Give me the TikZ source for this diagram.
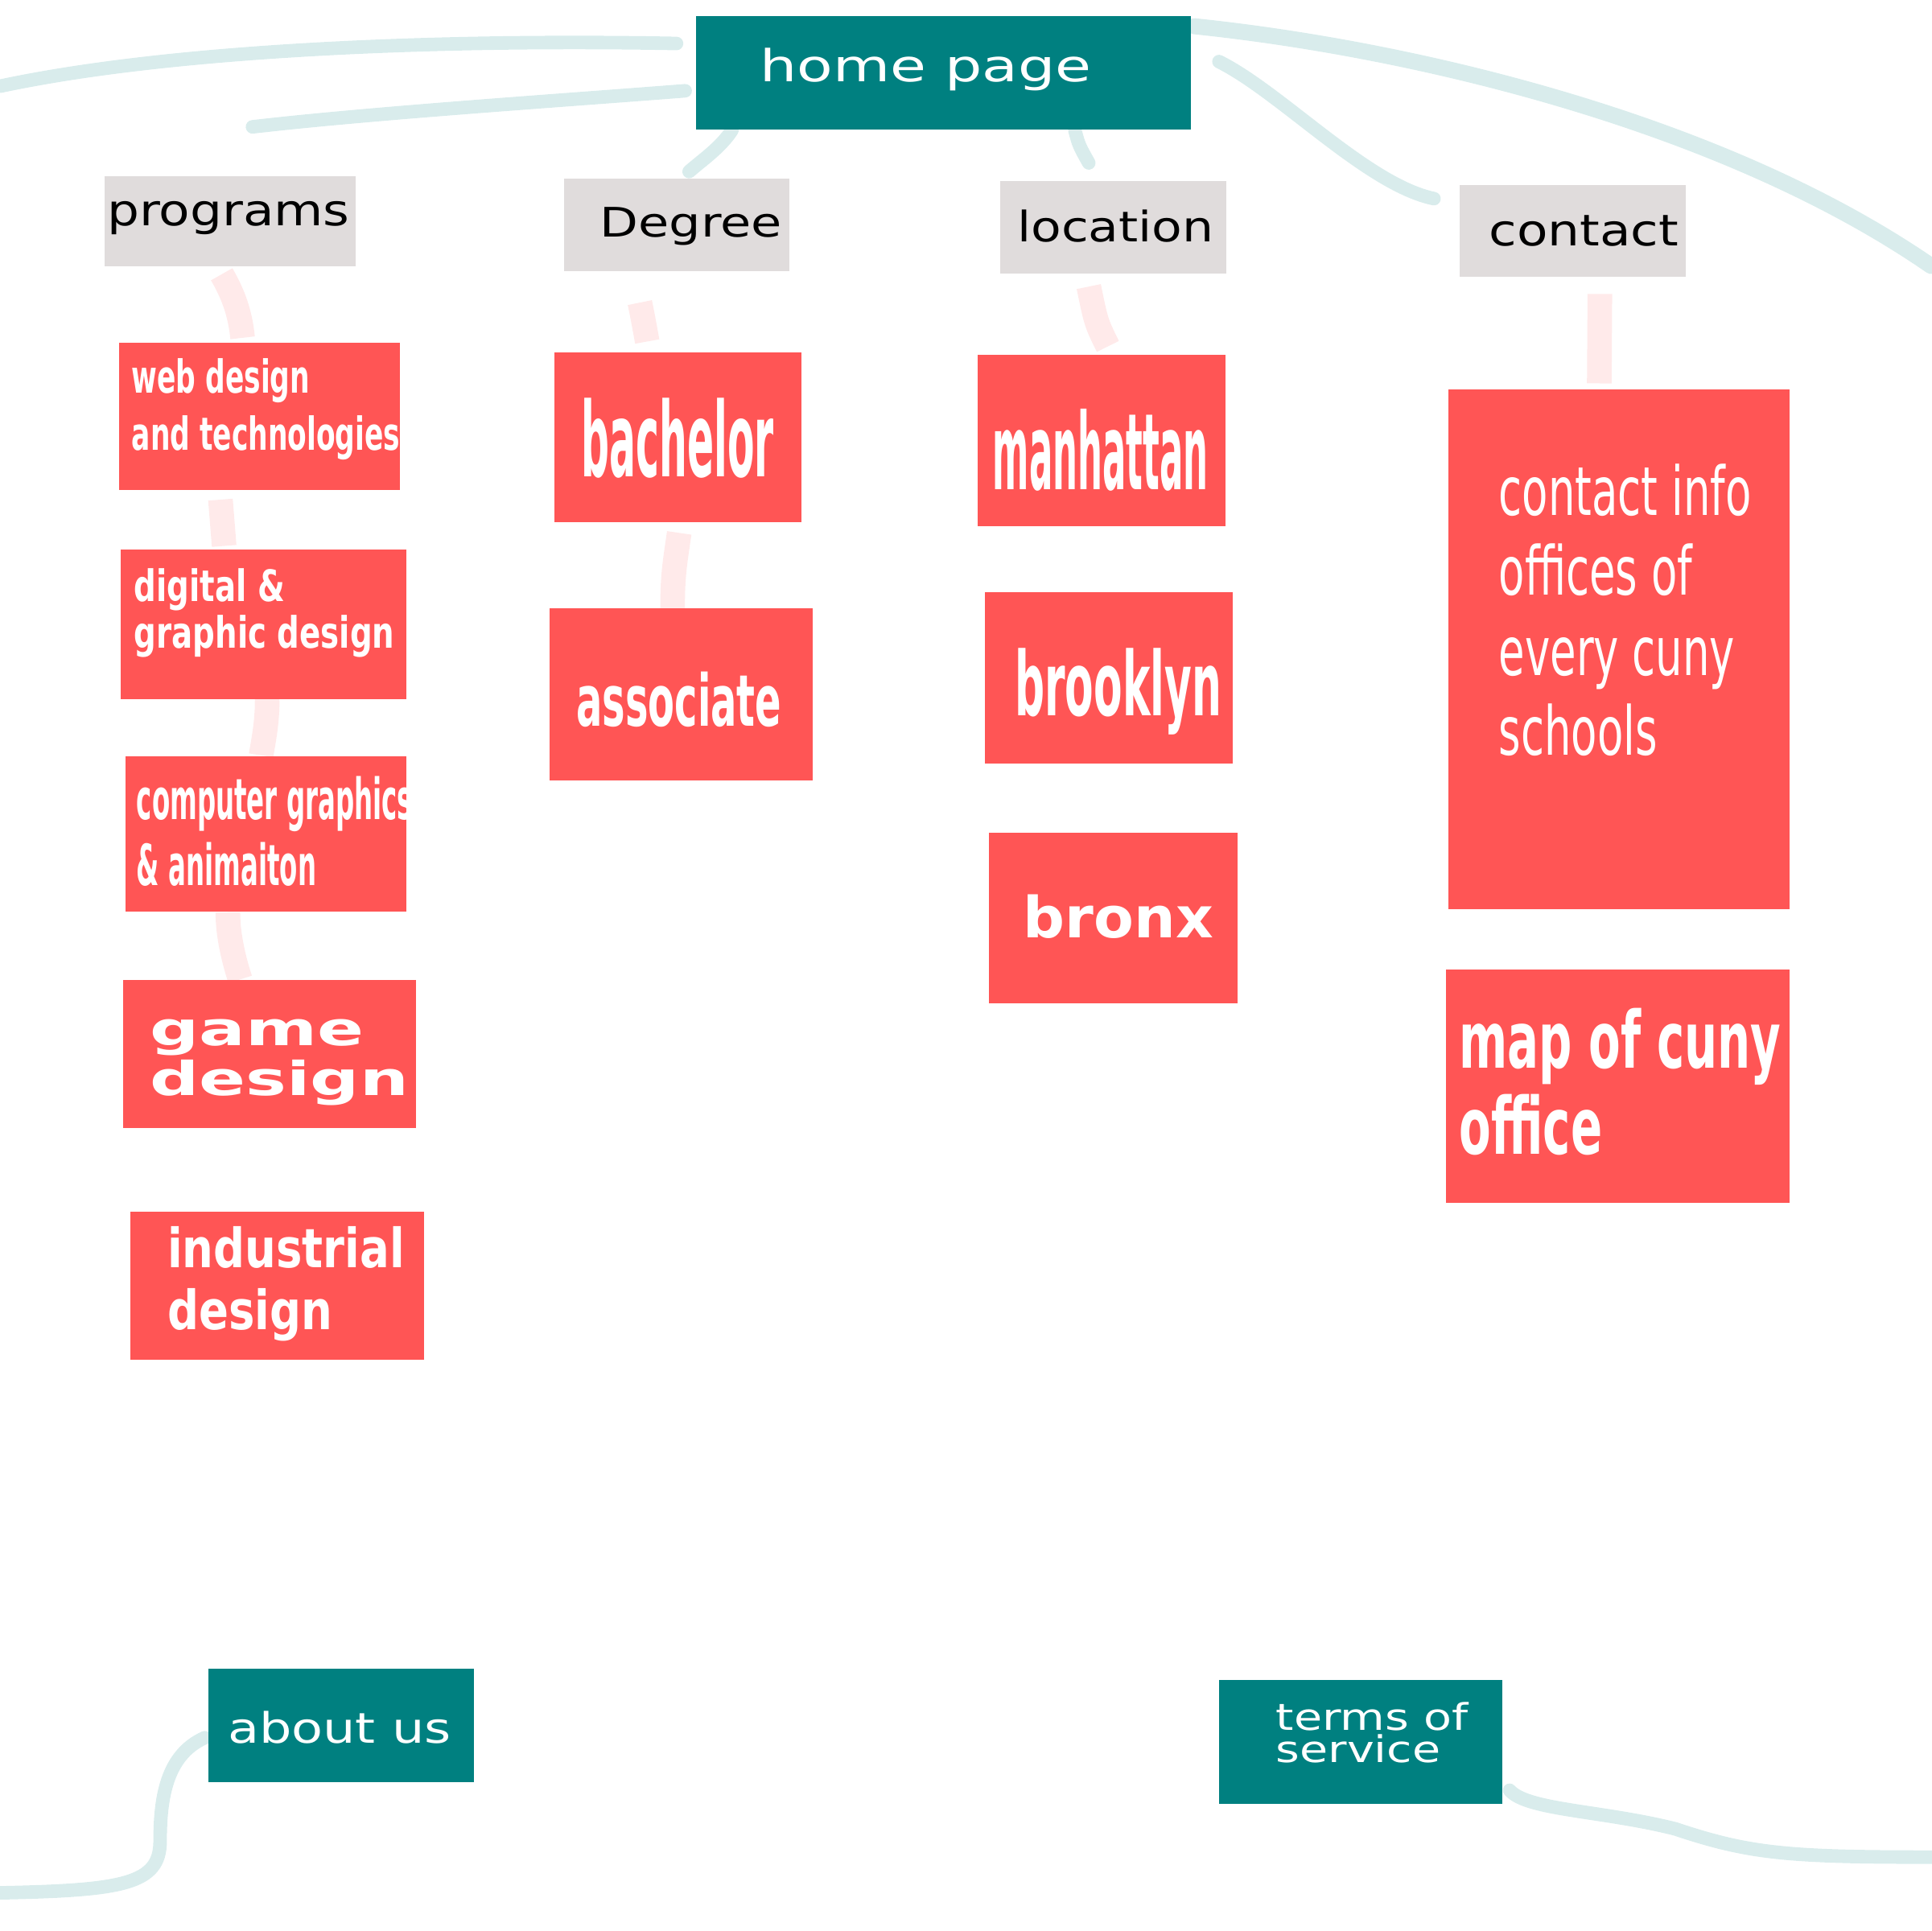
\documentclass[tikz,border=0pt]{standalone}
\usepackage{fontspec}
\setmainfont{DejaVu Sans}

\definecolor{navteal}{HTML}{008080}
\definecolor{catgray}{HTML}{E0DCDC}
\definecolor{pagered}{HTML}{FF5555}

% size, baselineskip, horizontal stretch
\newcommand{\labfont}[3]{\fontsize{#1}{#2}\selectfont\addfontfeatures{FakeStretch=#3}}

\tikzset{
  navbox/.style={fill=navteal, inner sep=0pt},
  catbox/.style={fill=catgray, inner sep=0pt},
  pagebox/.style={fill=pagered, inner sep=0pt},
  navtext/.style={text=white, anchor=base west, inner sep=0pt, align=left},
  cattext/.style={text=black, anchor=base west, inner sep=0pt},
  pagetext/.style={text=white, anchor=base west, inner sep=0pt, align=left},
  navlink/.style={navteal, opacity=0.15, line width=1.1mm, line cap=round},
  pagelink/.style={pagered, opacity=0.12, line width=2mm},
}

\begin{document}
\begin{tikzpicture}[x=0.1mm, y=-0.1mm]
\useasboundingbox (0,0) rectangle (1568,1568);

% home and the four sections
\node[navbox, minimum width=40.2mm, minimum height=9.2mm] (home) at (766,59) {};
\node[catbox, minimum width=20.4mm, minimum height=7.3mm] (prog) at (187,179.5) {};
\node[catbox, minimum width=18.3mm, minimum height=7.5mm] (deg) at (549.5,182.5) {};
\node[catbox, minimum width=18.4mm, minimum height=7.5mm] (loc) at (904,184.5) {};
\node[catbox, minimum width=18.4mm, minimum height=7.5mm] (cont) at (1277,187.5) {};

% programs
\node[pagebox, minimum width=22.8mm, minimum height=12mm] (web) at (211,338) {};
\node[pagebox, minimum width=23.2mm, minimum height=12.2mm] (dig) at (214,507) {};
\node[pagebox, minimum width=22.8mm, minimum height=12.6mm] (comp) at (216,677) {};
\node[pagebox, minimum width=23.8mm, minimum height=12mm] (game) at (219,856) {};
\node[pagebox, minimum width=23.8mm, minimum height=12mm] (indu) at (225,1044) {};

% degree
\node[pagebox, minimum width=20.1mm, minimum height=13.8mm] (bach) at (550.5,355) {};
\node[pagebox, minimum width=21.4mm, minimum height=14mm] (assoc) at (553,564) {};

% location
\node[pagebox, minimum width=20.1mm, minimum height=13.9mm] (manh) at (894.5,357.5) {};
\node[pagebox, minimum width=20.1mm, minimum height=13.9mm] (brook) at (900.5,550.5) {};
\node[pagebox, minimum width=20.2mm, minimum height=13.9mm] (bronx) at (904,745.5) {};

% contact
\node[pagebox, minimum width=27.7mm, minimum height=42.2mm] (cinfo) at (1314.5,527) {};
\node[pagebox, minimum width=27.9mm, minimum height=19mm] (map) at (1313.5,882) {};

% footer
\node[navbox, minimum width=21.6mm, minimum height=9.2mm] (about) at (277,1401) {};
\node[navbox, minimum width=23mm, minimum height=10.1mm] (terms) at (1105,1414.5) {};

% loose ends off the page
\coordinate (edgeTL) at (0,70);
\coordinate (edgeML) at (205,103);
\coordinate (edgeTR) at (1568,216);
\coordinate (edgeBL) at (0,1537);
\coordinate (edgeBR) at (1568,1508);

% teal strokes
\draw[navlink] ([shift={(-15,23)}]home.north west) .. controls (380,32) and (150,38) .. (edgeTL);
\draw[navlink] ([shift={(-8,-32)}]home.south west) .. controls (450,82) and (300,92) .. (edgeML);
\draw[navlink] ([shift={(30,0)}]home.south west) .. controls (585,120) and (570,130) .. ([shift={(10,-5)}]deg.north);
\draw[navlink] ([shift={(-95,0)}]home.south east) .. controls (876,118) .. ([shift={(-20,-14)}]loc.north);
\draw[navlink, line width=1.3mm] ([shift={(2,9)}]home.north east) .. controls (1150,40) and (1400,100) .. (edgeTR);
\draw[navlink] ([shift={(22,-9)}]home.east) .. controls (1040,75) and (1110,150) .. ([shift={(-20,12)}]cont.north west);
\draw[navlink] ([shift={(-2,10)}]about.west) .. controls (135,1425) and (130,1460) .. (130,1495)
  .. controls (130,1530) and (100,1535) .. (edgeBL);
\draw[navlink] ([shift={(5,-12)}]terms.south east) .. controls (1240,1470) and (1300,1470) .. (1360,1485)
  .. controls (1420,1505) and (1450,1508) .. (edgeBR);

% pink strokes
\draw[pagelink] ([shift={(-7,6)}]prog.south) .. controls (190,240) and (195,255) .. ([shift={(-14,-3)}]web.north);
\draw[pagelink] ([shift={(-32,7)}]web.south) -- ([shift={(-32,-2)}]dig.north);
\draw[pagelink] ([shift={(1,-23)}]dig.south) .. controls (220,575) and (214,600) .. ([shift={(-4,0)}]comp.north);
\draw[pagelink] ([shift={(-31,0)}]comp.south) .. controls (185,760) and (190,780) .. ([shift={(-24,0)}]game.north);
\draw[pagelink] ([shift={(-30,25)}]deg.south) .. controls (522,258) .. ([shift={(-25,-8)}]bach.north);
\draw[pagelink] ([shift={(1,8)}]bach.south) .. controls (546,470) .. ([shift={(-7,26)}]assoc.north);
\draw[pagelink] ([shift={(-20,10)}]loc.south) .. controls (890,262) .. ([shift={(5,-6)}]manh.north);
\draw[pagelink] ([shift={(22,13)}]cont.south) -- ([shift={(-16,-4)}]cinfo.north);

% labels (base = last line)
\node[navtext, font=\labfont{10.2pt}{12pt}{1.33}] (homeT) at ([shift={(52,54)}]home.north west) {home page};
\node[cattext, font=\labfont{10pt}{12pt}{1.17}] (progT) at ([shift={(2,41)}]prog.north west) {programs};
\node[cattext, font=\labfont{9.4pt}{12pt}{1.23}] (degT) at ([shift={(29,48)}]deg.north west) {Degree};
\node[cattext, font=\labfont{9.7pt}{12pt}{1.18}] (locT) at ([shift={(14,50)}]loc.north west) {location};
\node[cattext, font=\labfont{10pt}{12pt}{1.17}] (contT) at ([shift={(24,50)}]cont.north west) {contact};

\node[pagetext, font={\bfseries\labfont{10.5pt}{13.1pt}{0.61}}] (webT) at ([shift={(10,88)}]web.north west) {web design\\and technologies};
\node[pagetext, font={\bfseries\labfont{10pt}{10.8pt}{0.72}}] (digT) at ([shift={(11,81)}]dig.north west) {digital \&\\graphic design};
\node[pagetext, font={\bfseries\labfont{13.1pt}{15.4pt}{0.46}}] (compT) at ([shift={(9,106)}]comp.north west) {computer graphics\\\& animaiton};
\node[pagetext, font={\bfseries\labfont{10.8pt}{10.5pt}{1.47}}] (gameT) at ([shift={(22,94)}]game.north west) {game\\design};
\node[pagetext, font={\bfseries\labfont{12.5pt}{14.2pt}{0.81}}] (induT) at ([shift={(30,96)}]indu.north west) {industrial\\design};

\node[pagetext, font={\bfseries\labfont{23.9pt}{26pt}{0.38}}] (bachT) at ([shift={(22,102)}]bach.north west) {bachelor};
\node[pagetext, font={\bfseries\labfont{16.5pt}{18pt}{0.54}}] (assocT) at ([shift={(22,96)}]assoc.north west) {associate};

\node[pagetext, font={\bfseries\labfont{24.5pt}{26pt}{0.33}}] (manhT) at ([shift={(12,110)}]manh.north west) {manhattan};
\node[pagetext, font={\bfseries\labfont{20.5pt}{22pt}{0.47}}] (brookT) at ([shift={(24,101)}]brook.north west) {brooklyn};
\node[pagetext, font={\bfseries\labfont{13.1pt}{15pt}{1.03}}] (bronxT) at ([shift={(28,86)}]bronx.north west) {bronx};

\node[pagetext, font={\labfont{15.6pt}{18.5pt}{0.63}}] (cinfoT) at ([shift={(41,298)}]cinfo.north west) {contact info\\offices of\\every cuny\\schools};
\node[pagetext, font={\bfseries\labfont{18.2pt}{19.9pt}{0.59}}] (mapT) at ([shift={(11,151)}]map.north west) {map of cuny\\office};

\node[navtext, font=\labfont{9.7pt}{12pt}{1.22}] (aboutT) at ([shift={(16,61)}]about.north west) {about us};
\node[navtext, font=\labfont{8.5pt}{7.4pt}{1.25}] (termsT) at ([shift={(46,68)}]terms.north west) {terms of\\service};

\end{tikzpicture}
\end{document}
